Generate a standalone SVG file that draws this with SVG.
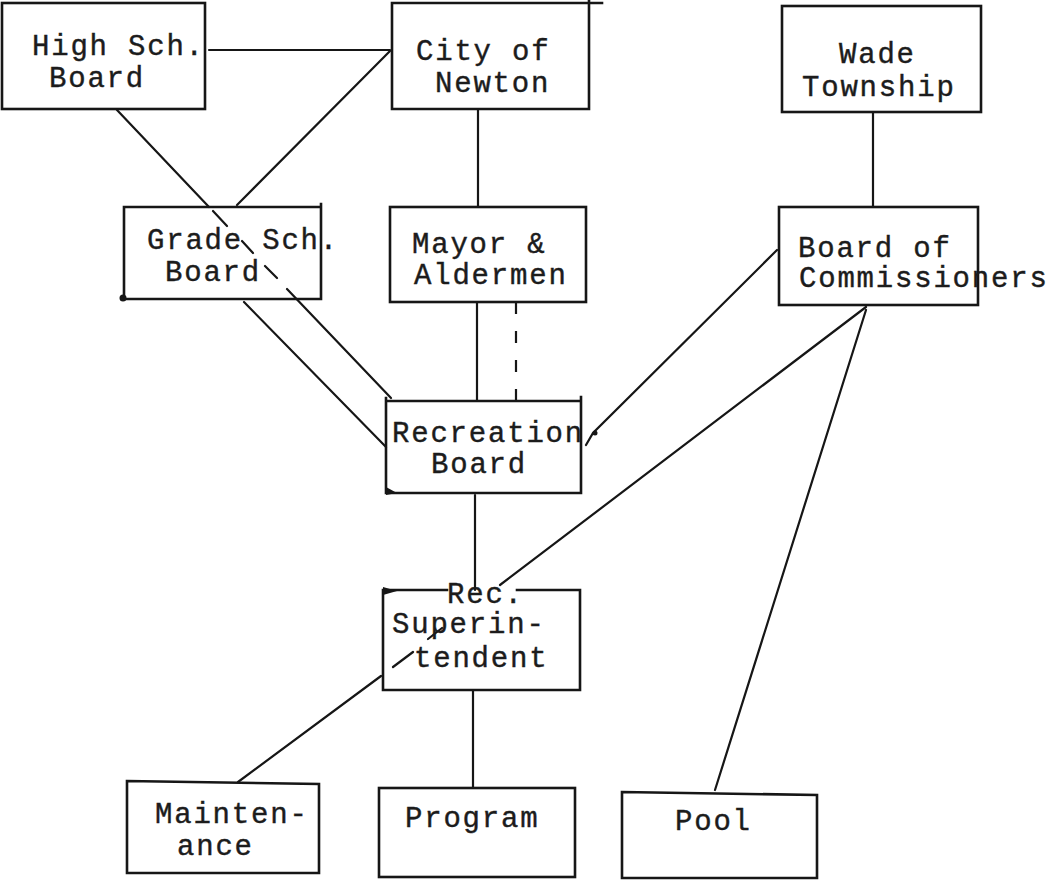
<svg xmlns="http://www.w3.org/2000/svg" width="1047" height="881" viewBox="0 0 1047 881">
<style>
.box{fill:none;stroke:#161616;stroke-width:2.6}
.edge{fill:none;stroke:#161616;stroke-width:2.6;stroke-linecap:square}
.conn{fill:none;stroke:#161616;stroke-width:2.2;stroke-linecap:round}
.dash{stroke-dasharray:12 17;stroke-linecap:butt}
text{font-family:"Liberation Mono","Courier New",monospace;font-size:29px;letter-spacing:1.8px;fill:#1c1c1c;stroke:#1c1c1c;stroke-width:0.4}
.dot{fill:#161616}
</style>
<rect width="1047" height="881" fill="#ffffff"/>
<g id="connectors">
<path class="conn" d="M209,50 H390"/>
<path class="conn" d="M390,51 L237,205"/>
<path class="conn" d="M117,110 L209,207 M213,211 L227,226 M242,241 L253,253 M265,266 L277,278 M287,289 L391,398"/>
<path class="conn" d="M244,302 L386,447"/>
<path class="conn" d="M478,110 V207"/>
<path class="conn" d="M477,302 V401"/>
<path class="conn dash" d="M516,302 V402"/>
<path class="conn" d="M475,495 V590"/>
<path class="conn" d="M873,112 V207"/>
<path class="conn" d="M777,250 L593,433 L586,445"/>
<circle class="dot" cx="595" cy="433" r="2.5"/>
<path class="conn" d="M866,307 L500,585 M442,628 L428,639 M413,652 L393,667 M381,676 L238,782"/>
<path class="conn" d="M866,310 L715,790"/>
<path class="conn" d="M473,690 V788"/>
</g>
<g id="high-sch-board">
<rect class="box" x="2" y="3" width="203" height="106"/>
<text x="32" y="55">High Sch.</text>
<text x="49" y="87">Board</text>
</g>
<g id="city-of-newton">
<path class="edge" d="M392,3 H602 M589,0 V109 M589,109 H392 V3"/>
<text x="416" y="60">City of</text>
<text x="435" y="92">Newton</text>
</g>
<g id="wade-township">
<rect class="box" x="782" y="6" width="199" height="106"/>
<text x="839" y="63">Wade</text>
<text x="802" y="96">Township</text>
</g>
<g id="grade-sch-board">
<path class="edge" d="M124,207 H321 M321,204 V299 M321,299 H124 V207"/>
<circle class="dot" cx="123" cy="298" r="3.5"/>
<text x="147" y="249">Grade Sch.</text>
<text x="165" y="281">Board</text>
</g>
<g id="mayor-aldermen">
<rect class="box" x="390" y="207" width="196" height="95"/>
<text x="412" y="253">Mayor &amp;</text>
<text x="414" y="284">Aldermen</text>
</g>
<g id="board-of-commissioners">
<rect class="box" x="779" y="207" width="199" height="98"/>
<text x="798" y="257">Board of</text>
<text x="799" y="287">Commissioners</text>
</g>
<g id="recreation-board">
<path class="edge" d="M386,398 V493 H581 M581,397 V493 M386,401 H581"/>
<path class="dot" d="M386,487 L397,493 L386,495 Z"/>
<text x="392" y="442">Recreation</text>
<text x="431" y="473">Board</text>
</g>
<g id="rec-superintendent">
<path class="edge" d="M383,590 H447 M517,590 H580 M580,590 V690 H383 V590"/>
<path class="dot" d="M383,587 L397,591 L383,595 Z"/>
<text x="447" y="603">Rec.</text>
<text x="392" y="633">Superin-</text>
<text x="414" y="667">tendent</text>
</g>
<g id="maintenance">
<path class="edge" d="M127,781 L319,784 V873 H127 Z"/>
<text x="155" y="823">Mainten-</text>
<text x="177" y="855">ance</text>
</g>
<g id="program">
<rect class="box" x="379" y="788" width="196" height="89"/>
<text x="405" y="827">Program</text>
</g>
<g id="pool">
<path class="edge" d="M622,792 L817,795 V878 H622 Z"/>
<text x="675" y="830">Pool</text>
</g>
</svg>
